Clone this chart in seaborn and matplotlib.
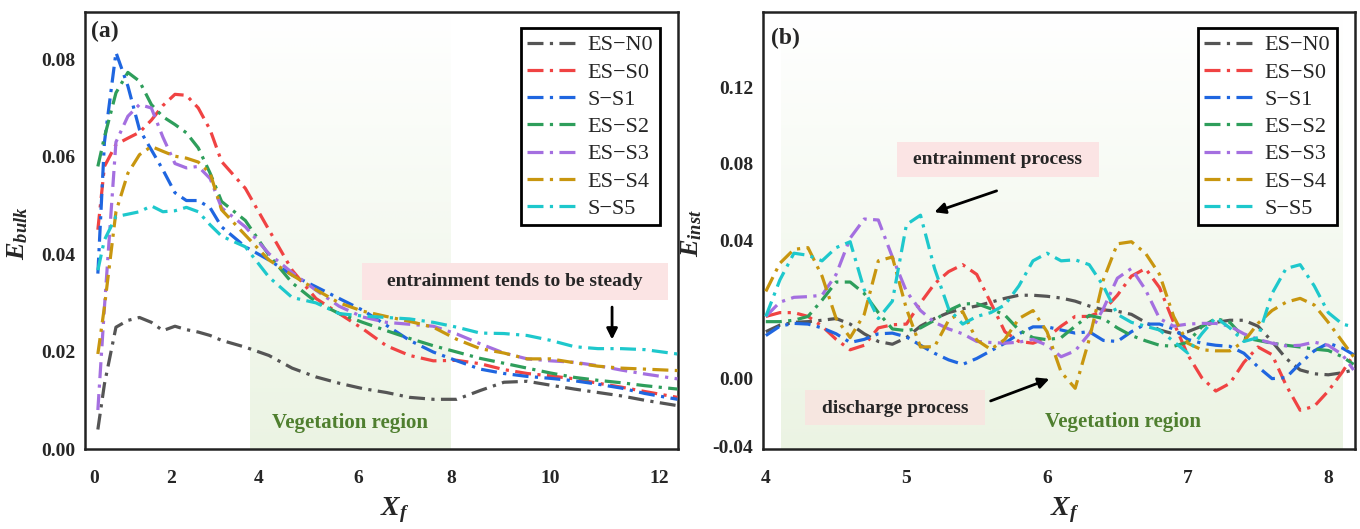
import numpy as np
import pandas as pd
import matplotlib
matplotlib.use("Agg")
import matplotlib.pyplot as plt
import seaborn as sns
from matplotlib.patches import Rectangle

sns.set_style("white")
plt.rcParams['font.family'] = ['Liberation Serif', 'DejaVu Serif']
plt.rcParams['mathtext.fontset'] = 'custom'
plt.rcParams['mathtext.it'] = 'Liberation Serif:italic:bold'
plt.rcParams['mathtext.rm'] = 'Liberation Serif:bold'

# ---------------- data ----------------
cases = ["ES\u2212N0", "ES\u2212S0", "S\u2212S1", "ES\u2212S2", "ES\u2212S3", "ES\u2212S4", "S\u2212S5"]
colors = ["#555555", "#f04343", "#1f66e0", "#2e9e5b", "#a46fe0", "#c8960f", "#1ec8cc"]

# panel (a): bulk entrainment vs X_f
xa = [0.10, 0.27, 0.57, 0.88, 1.18, 1.49, 1.79, 2.09, 2.35, 2.62, 2.89, 3.15, 3.69, 4.20, 4.67,
      5.15, 5.62, 6.10, 6.61, 7.11, 7.62, 8.12, 8.59, 9.07, 9.54, 10.01, 10.45, 10.88, 11.31, 11.74, 12.34]
a_N0 = [0.004, 0.0133, 0.025, 0.0264, 0.027, 0.026, 0.0243, 0.0252, 0.0245, 0.024, 0.0233, 0.0223,
        0.0209, 0.0192, 0.0166, 0.0148, 0.0135, 0.0124, 0.0116, 0.0106, 0.0102, 0.0102, 0.012, 0.0137,
        0.0139, 0.0131, 0.0123, 0.0116, 0.0109, 0.0100, 0.0089]
a_S0 = [0.045, 0.058, 0.0625, 0.0638, 0.065, 0.0675, 0.0705, 0.0728, 0.0726, 0.070, 0.0655, 0.059,
        0.0535, 0.045, 0.0367, 0.0309, 0.0278, 0.0247, 0.0212, 0.0192, 0.0181, 0.0182, 0.0175, 0.0163,
        0.0155, 0.015, 0.0144, 0.0135, 0.0127, 0.0118, 0.0106]
a_S1 = [0.036, 0.0629, 0.0814, 0.0745, 0.0656, 0.0614, 0.0573, 0.0526, 0.051, 0.051, 0.0495, 0.0456,
        0.0415, 0.0388, 0.0357, 0.0333, 0.0309, 0.0285, 0.0254, 0.0223, 0.0199, 0.0181, 0.0164, 0.0155,
        0.0149, 0.0145, 0.014, 0.0133, 0.0125, 0.0114, 0.0102]
a_S2 = [0.058, 0.064, 0.0731, 0.0773, 0.0755, 0.0707, 0.0682, 0.0666, 0.0649, 0.0618, 0.0566, 0.0508,
        0.0469, 0.0398, 0.0341, 0.0302, 0.0278, 0.026, 0.0243, 0.0227, 0.0212, 0.0199, 0.0186, 0.0176,
        0.0166, 0.0156, 0.0147, 0.0141, 0.0136, 0.013, 0.0123]
a_S3 = [0.008, 0.029, 0.063, 0.0683, 0.0707, 0.070, 0.064, 0.0586, 0.0577, 0.058, 0.0555, 0.0495,
        0.0456, 0.0401, 0.0362, 0.0326, 0.0293, 0.0271, 0.026, 0.0256, 0.0252, 0.0236, 0.0216, 0.0197,
        0.0185, 0.0181, 0.0178, 0.0171, 0.0162, 0.0154, 0.0144]
a_S4 = [0.0195, 0.0291, 0.0487, 0.0566, 0.0604, 0.0621, 0.0611, 0.0601, 0.0597, 0.0589, 0.0566, 0.0491,
        0.0439, 0.0388, 0.0357, 0.0327, 0.030, 0.0283, 0.0272, 0.0262, 0.025, 0.0225, 0.0206, 0.0197,
        0.0185, 0.0185, 0.0177, 0.017, 0.0166, 0.0164, 0.0161]
a_S5 = [0.0367, 0.0429, 0.0477, 0.0482, 0.0487, 0.0499, 0.0487, 0.0489, 0.0496, 0.0487, 0.046, 0.0437,
        0.0415, 0.0353, 0.0311, 0.030, 0.0278, 0.0273, 0.027, 0.0267, 0.026, 0.025, 0.0238, 0.0237,
        0.0233, 0.0223, 0.021, 0.0206, 0.0206, 0.0204, 0.0195]

# panel (b): instantaneous entrainment vs X_f
xb = [4.0, 4.1, 4.2, 4.3, 4.4, 4.5, 4.6, 4.7, 4.8, 4.9, 5.0, 5.1, 5.2, 5.3, 5.4, 5.5, 5.6, 5.7,
      5.8, 5.9, 6.0, 6.1, 6.2, 6.3, 6.4, 6.5, 6.6, 6.7, 6.8, 6.9, 7.0, 7.1, 7.2, 7.3, 7.4, 7.5,
      7.6, 7.7, 7.8, 7.9, 8.0, 8.1, 8.18]
b_N0 = [0.0136, 0.0155, 0.0163, 0.0165, 0.0169, 0.0174, 0.0158, 0.0130, 0.0108, 0.0100, 0.0119,
        0.0152, 0.0174, 0.0191, 0.0202, 0.0210, 0.0221, 0.0232, 0.0241, 0.0241, 0.0238, 0.0233, 0.0224,
        0.0210, 0.0199, 0.0195, 0.0186, 0.0163, 0.0141, 0.0130, 0.0136, 0.0152, 0.0163, 0.0169, 0.0169,
        0.0152, 0.0108, 0.0059, 0.0026, 0.0015, 0.0012, 0.0018, 0.0026]
b_S0 = [0.0180, 0.0191, 0.0191, 0.0180, 0.0152, 0.0114, 0.0084, 0.0097, 0.0147, 0.0156, 0.0158,
        0.0219, 0.0274, 0.0309, 0.0329, 0.0301, 0.0219, 0.0136, 0.0108, 0.0103, 0.0119, 0.0152, 0.0180,
        0.0180, 0.0197, 0.0241, 0.0296, 0.0318, 0.0263, 0.0163, 0.0070, 0.0004, -0.0071, -0.0026,
        0.0048, 0.0092, 0.0070, -0.0037, -0.0184, -0.0161, -0.0071, 0.0020, 0.0070]
b_S1 = [0.0125, 0.0152, 0.0160, 0.0158, 0.0147, 0.0130, 0.0105, 0.0114, 0.0130, 0.0132, 0.0121,
        0.0097, 0.0074, 0.0055, 0.0042, 0.0059, 0.0081, 0.0103, 0.0130, 0.0150, 0.0150, 0.0141, 0.0132,
        0.0136, 0.0111, 0.0108, 0.0136, 0.0158, 0.0158, 0.0144, 0.0114, 0.0103, 0.0097, 0.0094, 0.0074,
        0.0035, 0.0001, 0.0004, 0.0045, 0.0081, 0.0103, 0.0089, 0.0070]
b_S2 = [0.0165, 0.0165, 0.0169, 0.0180, 0.0227, 0.0279, 0.0279, 0.0246, 0.0191, 0.0144, 0.0139,
        0.0147, 0.0169, 0.0197, 0.0216, 0.0217, 0.0202, 0.0184, 0.0141, 0.0119, 0.0113, 0.0119, 0.0152,
        0.0183, 0.0174, 0.0147, 0.0125, 0.0110, 0.0097, 0.0094, 0.0106, 0.0150, 0.0174, 0.0163, 0.0119,
        0.0111, 0.0103, 0.0097, 0.0092, 0.0086, 0.0082, 0.0064, 0.0042]
b_S3 = [0.0180, 0.0221, 0.0235, 0.0237, 0.0241, 0.0301, 0.0410, 0.0509, 0.0504, 0.0351, 0.0252,
        0.0197, 0.0163, 0.0144, 0.0130, 0.0108, 0.0105, 0.0103, 0.0106, 0.0114, 0.0097, 0.0064, 0.0081,
        0.0130, 0.0202, 0.0290, 0.0318, 0.0257, 0.0174, 0.0152, 0.0158, 0.0160, 0.0160, 0.0152, 0.0130,
        0.0114, 0.0103, 0.0095, 0.0097, 0.0106, 0.0097, 0.0070, 0.0026]
b_S4 = [0.0252, 0.0333, 0.0373, 0.0378, 0.0296, 0.0174, 0.0119, 0.0186, 0.0340, 0.0351, 0.0202,
        0.0092, 0.0093, 0.0169, 0.0194, 0.0112, 0.0085, 0.0114, 0.0174, 0.0197, 0.0136, 0.0020, -0.0055,
        0.0114, 0.0285, 0.0389, 0.0395, 0.0362, 0.0301, 0.0180, 0.0103, 0.0084, 0.0081, 0.0081, 0.0108,
        0.0160, 0.0197, 0.0221, 0.0232, 0.0213, 0.0163, 0.0108, 0.0064]
b_S5 = [0.0180, 0.0285, 0.0362, 0.0356, 0.0340, 0.0378, 0.0395, 0.0257, 0.0174, 0.0224, 0.0480,
        0.0529, 0.0318, 0.0202, 0.0158, 0.0180, 0.0191, 0.0213, 0.0268, 0.0340, 0.0362, 0.0340, 0.0343,
        0.0329, 0.0268, 0.0186, 0.0163, 0.0152, 0.0141, 0.0108, 0.0075, 0.0130, 0.0177, 0.0147, 0.0108,
        0.0119, 0.0246, 0.0318, 0.0329, 0.0268, 0.0191, 0.0158, 0.0150]

veg_a = (3.8, 8.0)
veg_b = (4.11, 8.10)

# ---------------- axis scales (the original figure's tick spacing is uneven) ----------------
ax_a_ticks = [-2, 0, 2, 4, 6, 8, 10, 12, 14]
ax_a_pos = [17, 94, 171, 259, 358, 451, 550, 659, 768]
ax_b_ticks = [-0.08, -0.04, 0.00, 0.04, 0.08, 0.12, 0.16, 0.20]
ax_b_pos = [-515, -447, -379, -240, -163, -87, -11, 65]


def piecewise_scale(ticks, pos):
    t = np.asarray(ticks, float)
    p = np.asarray(pos, float)
    return (lambda v: np.interp(v, t, p), lambda q: np.interp(q, p, t))


# ---------------- figure ----------------
fig = plt.figure(figsize=(13.6, 5.29), dpi=100)
axa = fig.add_axes([85/1360, 1-449/529, (678-85)/1360, (449-12)/529])
axb = fig.add_axes([763/1360, 1-449/529, (1355-763)/1360, (449-12)/529])

palette = dict(zip(cases, colors))
dash_pat = {c: (5, 2, 1, 2) for c in cases}


def long_df(x, series):
    return pd.DataFrame({
        "x": np.tile(x, len(series)),
        "y": np.concatenate(series),
        "case": np.repeat(cases, len(x)),
    })


dfa = long_df(xa, [a_N0, a_S0, a_S1, a_S2, a_S3, a_S4, a_S5])
dfb = long_df(xb, [b_N0, b_S0, b_S1, b_S2, b_S3, b_S4, b_S5])


def shade(ax, x0, x1):
    n = 256
    grad = np.zeros((n, 1, 4))
    grad[:, 0, 0] = 0.86
    grad[:, 0, 1] = 0.92
    grad[:, 0, 2] = 0.80
    grad[:, 0, 3] = np.linspace(0.55, 0.0, n)
    inv = ax.transAxes.inverted()
    f0 = inv.transform(ax.transData.transform((x0, ax.get_ylim()[0])))[0]
    f1 = inv.transform(ax.transData.transform((x1, ax.get_ylim()[0])))[0]
    ax.set_autoscale_on(False)
    ax.imshow(grad, extent=[f0, f1, 0, 1], origin="lower", aspect="auto", zorder=0,
              interpolation="bilinear", transform=ax.transAxes)


for ax, df in [(axa, dfa), (axb, dfb)]:
    sns.lineplot(data=df, x="x", y="y", hue="case", style="case", palette=palette,
                 dashes=dash_pat, linewidth=2.3, ax=ax, sort=False, estimator=None, zorder=3)

axa.set_xscale("function", functions=piecewise_scale(ax_a_ticks, ax_a_pos))
axb.set_yscale("function", functions=piecewise_scale(ax_b_ticks, ax_b_pos))

settings = [
    (axa, (-0.234, 12.35), (0.0, 0.0897), veg_a, [0.00, 0.02, 0.04, 0.06, 0.08], [0, 2, 4, 6, 8, 10, 12]),
    (axb, (3.98, 8.19), (-0.0412, 0.1595), veg_b, [-0.04, 0.00, 0.04, 0.08, 0.12], [4, 5, 6, 7, 8]),
]
for ax, xlim, ylim, veg, yticks, xticks in settings:
    ax.set_xlim(*xlim)
    ax.set_ylim(*ylim)
    ax.set_xticks(xticks)
    ax.set_xticklabels([str(v) for v in xticks])
    ax.set_yticks(yticks)
    ax.set_yticklabels(["{:.2f}".format(v) for v in yticks])
    ax.minorticks_off()
    shade(ax, veg[0], veg[1])
    ax.tick_params(axis="both", length=0, labelsize=14)
    ax.tick_params(axis="y", pad=7)
    ax.tick_params(axis="x", pad=15)
    for lab in ax.get_xticklabels() + ax.get_yticklabels():
        lab.set_fontweight("bold")
    for sp in ax.spines.values():
        sp.set_visible(True)
        sp.set_color("#222222")
        sp.set_linewidth(1.8)
    handles, labels = ax.get_legend_handles_labels()
    leg = ax.legend(handles, labels, loc="upper right", bbox_to_anchor=(0.969, 0.963),
                    fontsize=16, frameon=True, fancybox=False, framealpha=1,
                    edgecolor="black", handlelength=2.4, handletextpad=0.3,
                    labelspacing=0.3, borderpad=0.3, borderaxespad=0.0)
    leg.get_frame().set_linewidth(2.0)
    ax.set_xlabel(r"$X_f$", fontsize=20)

axa.set_ylabel(r"$E_{bulk}$", fontsize=19)
axb.set_ylabel(r"$E_{inst}$", fontsize=19)
axa.yaxis.set_label_coords(-0.092, 0.494)
axb.yaxis.set_label_coords(-0.1, 0.494)
axa.xaxis.set_label_coords(0.523, -0.105)
axb.xaxis.set_label_coords(0.51, -0.105)

arrow_kw = dict(arrowstyle="-|>", color="black", lw=2, mutation_scale=16)

# ---- panel (a) annotations ----
axa.text(0.29, 0.0858, "(a)", fontsize=17, fontweight="bold", ha="center", va="center", zorder=5)
axa.add_patch(Rectangle((6.09, 0.0305), 12.17 - 6.09, 0.0381 - 0.0305, facecolor="#fbe4e4",
                        edgecolor="none", zorder=2))
axa.text(9.29, 0.0343, "entrainment tends to be steady", fontsize=14, fontweight="bold",
         ha="center", va="center", zorder=5)
axa.annotate("", xy=(11.14, 0.0219), xytext=(11.14, 0.0297), arrowprops=arrow_kw, zorder=5)
axa.text(5.84, 0.0054, "Vegetation region", fontsize=15, fontweight="bold", color="#4f7f2f",
         ha="center", va="center", zorder=5)

# ---- panel (b) annotations ----
axb.text(4.14, 0.1458, "(b)", fontsize=17, fontweight="bold", ha="center", va="center", zorder=5)
axb.add_patch(Rectangle((4.93, 0.0727), 6.37 - 4.93, 0.0911 - 0.0727, facecolor="#fbe4e4",
                        edgecolor="none", zorder=2))
axb.text(5.65, 0.0816, "entrainment process", fontsize=14, fontweight="bold",
         ha="center", va="center", zorder=5)
axb.annotate("", xy=(5.18, 0.054), xytext=(5.66, 0.066), arrowprops=arrow_kw, zorder=5)
axb.add_patch(Rectangle((4.28, -0.0271), 5.56 - 4.28, -0.0065 + 0.0271, facecolor="#f6e6e0",
                        edgecolor="none", zorder=2))
axb.text(4.92, -0.0171, "discharge process", fontsize=14, fontweight="bold",
         ha="center", va="center", zorder=5)
axb.annotate("", xy=(6.035, 0.0003), xytext=(5.58, -0.0135), arrowprops=arrow_kw, zorder=5)
axb.text(6.54, -0.0253, "Vegetation region", fontsize=15, fontweight="bold", color="#4f7f2f",
         ha="center", va="center", zorder=5)

fig.savefig("out.png", dpi=100)
